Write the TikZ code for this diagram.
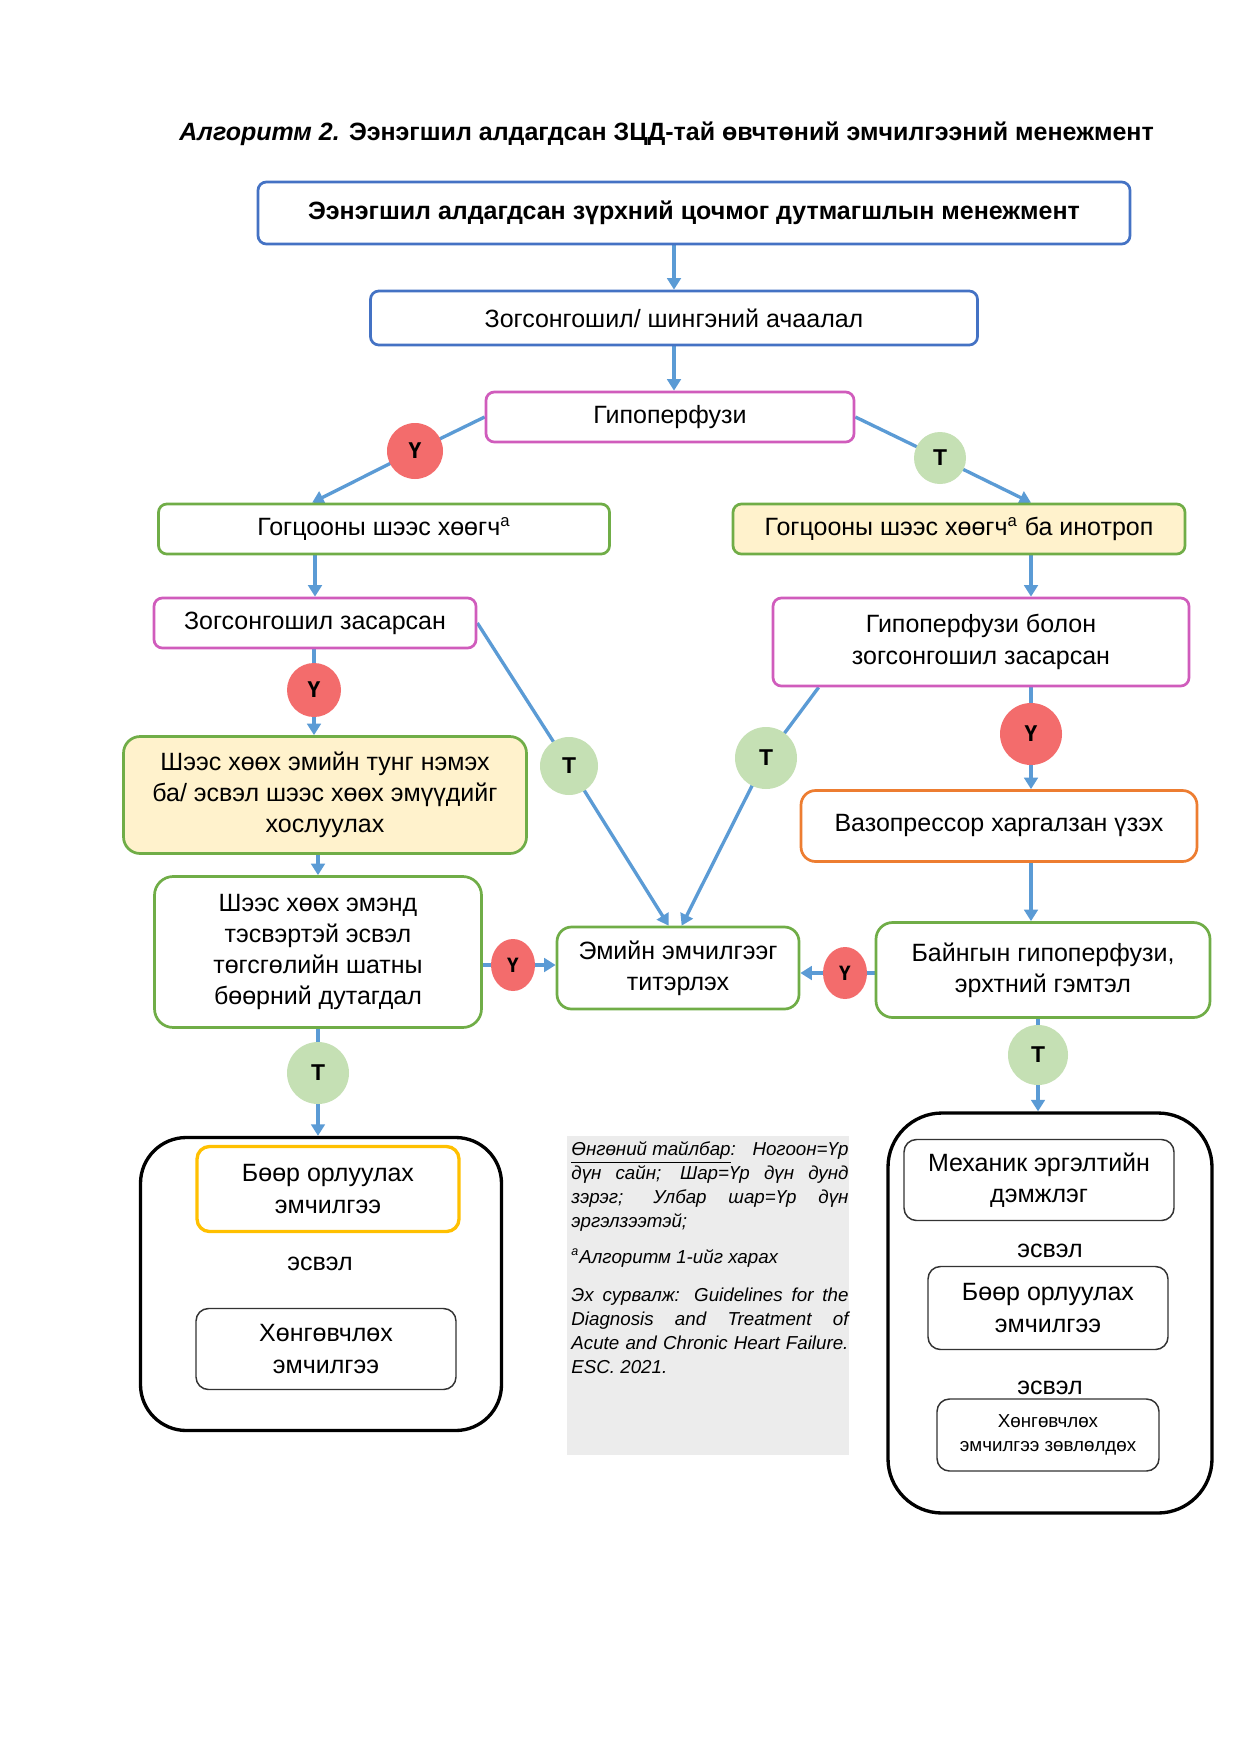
\documentclass[tikz,border=0pt]{standalone}
\usepackage{fontspec}
\setmainfont{Liberation Sans}
\usetikzlibrary{arrows.meta,calc,shapes.geometric}
\pgfdeclarelayer{bg}
\pgfsetlayers{bg,main}
\definecolor{bblue}{RGB}{68,114,196}
\definecolor{pinkc}{RGB}{208,92,188}
\definecolor{greenc}{RGB}{112,173,71}
\definecolor{yellowf}{RGB}{255,242,204}
\definecolor{orangec}{RGB}{237,125,49}
\definecolor{goldc}{RGB}{255,192,0}
\definecolor{arrowc}{RGB}{91,155,213}
\definecolor{redc}{RGB}{243,108,108}
\definecolor{lgreen}{RGB}{197,224,180}
\definecolor{grayf}{RGB}{236,236,236}
\begin{document}
\begin{tikzpicture}[x=0.48pt,y=-0.48pt,
  wh/.style 2 args={minimum width=#1*0.48pt,minimum height=#2*0.48pt},
  base/.style={rounded corners=4pt,line width=1.3pt,inner sep=0pt,align=center,fill=white,font=\fontsize{12}{15}\selectfont},
  bluebox/.style={base,draw=bblue},
  pinkbox/.style={base,draw=pinkc},
  greenbox/.style={base,draw=greenc},
  ygbox/.style={base,draw=greenc,fill=yellowf},
  orangebox/.style={base,draw=orangec},
  goldbox/.style={base,draw=goldc,line width=1.6pt,rounded corners=6pt},
  thinbox/.style={base,draw=black!80,line width=0.7pt,rounded corners=6pt},
  bigbox/.style={draw=black,line width=1.6pt,rounded corners=22pt,inner sep=0pt},
  yc/.style={circle,fill=redc,inner sep=0pt,minimum size=#1*0.48pt,font=\fontsize{11}{11}\selectfont\bfseries},
  tc/.style={circle,fill=lgreen,inner sep=0pt,minimum size=#1*0.48pt,font=\fontsize{11}{11}\selectfont\bfseries},
  ye/.style={ellipse,fill=redc,inner sep=0pt,minimum width=44*0.48pt,minimum height=52*0.48pt,font=\fontsize{10}{10}\selectfont\bfseries},
  arr/.style={draw=arrowc,line width=1.6pt,-{Triangle[length=5.5pt,width=6.5pt]}},
  ln/.style={draw=arrowc,line width=1.6pt},
  plain/.style={inner sep=0pt,font=\fontsize{12}{15}\selectfont}
]
\useasboundingbox (0,0) rectangle (1240,1752);
\begin{pgfonlayer}{bg}
\fill[white] (0,0) rectangle (1240,1752);
\end{pgfonlayer}

% title
\node[inner sep=0pt,anchor=base west,font=\fontsize{12}{14}\selectfont\bfseries] (title) at (179,141)
  {\textit{Алгоритм 2.} Ээнэгшил алдагдсан ЗЦД-тай өвчтөний эмчилгээний менежмент};

% boxes
\node[bluebox,wh={872}{62},font=\fontsize{12}{15}\selectfont\bfseries] (b1) at (694,213) {Ээнэгшил алдагдсан зүрхний цочмог дутмагшлын менежмент};
\node[bluebox,wh={607}{54}] (b2) at (674,318) {Зогсонгошил/ шингэний ачаалал};
\node[pinkbox,wh={368}{50}] (hypo) at (670,417) {Гипоперфузи};
\node[greenbox,wh={451}{50}] (gl) at (384,529) {Гогцооны шээс хөөгч\textsuperscript{a}};
\node[ygbox,wh={452}{50}] (gr) at (959,529) {Гогцооны шээс хөөгч\textsuperscript{a} ба инотроп};
\node[pinkbox,wh={322}{50}] (zl) at (315,623) {Зогсонгошил засарсан};
\node[pinkbox,wh={416}{88}] (hr) at (981,642) {Гипоперфузи болон\\зогсонгошил засарсан};
\node[ygbox,wh={403}{117},rounded corners=8pt] (yl) at (325,795) {Шээс хөөх эмийн тунг нэмэх\\ба/ эсвэл шээс хөөх эмүүдийг\\хослуулах};
\node[orangebox,wh={396}{71},rounded corners=7pt] (vaz) at (999,826) {\raisebox{3pt}{Вазопрессор харгалзан үзэх}};
\node[greenbox,wh={327}{151},rounded corners=9pt] (sh) at (318,952) {Шээс хөөх эмэнд\\тэсвэртэй эсвэл\\төгсгөлийн шатны\\бөөрний дутагдал};
\node[greenbox,wh={242}{82},rounded corners=7pt] (em) at (678,968) {Эмийн эмчилгээг\\титэрлэх};
\node[greenbox,wh={334}{95},rounded corners=8pt] (by) at (1043,970) {Байнгын гипоперфузи,\\эрхтний гэмтэл};

% bottom left group
\node[bigbox,wh={361}{293}] (lb) at (321,1284) {};
\node[goldbox,wh={262}{85}] (rrt1) at (328,1189) {Бөөр орлуулах\\эмчилгээ};
\node[plain] (or1) at (320,1264) {эсвэл};
\node[thinbox,wh={260}{81}] (pal1) at (326,1349) {Хөнгөвчлөх\\эмчилгээ};

% bottom right group
\node[bigbox,wh={324}{400},rounded corners=26pt] (rb) at (1050,1313) {};
\node[thinbox,wh={270}{81}] (mcs) at (1039,1180) {Механик эргэлтийн\\дэмжлэг};
\node[plain] (or2) at (1050,1251) {эсвэл};
\node[thinbox,wh={240}{83}] (rrt2) at (1048,1308) {Бөөр орлуулах\\эмчилгээ};
\node[plain] (or3) at (1050,1388) {эсвэл};
\node[thinbox,wh={222}{72},font=\fontsize{9}{11.4}\selectfont] (pal2) at (1048,1435) {Хөнгөвчлөх\\эмчилгээ зөвлөлдөх};

% legend
\node[fill=grayf,inner sep=0pt,wh={282}{319},anchor=north west] (legbg) at (567,1136) {};
\node[anchor=north west,inner sep=0pt,text width=133pt,align=justify,font=\fontsize{9}{11.5}\selectfont\itshape] (leg) at (571,1141)
 {\parindent=0pt\underline{Өнгөний тайлбар}: Ногоон=Үр\linebreak дүн сайн; Шар=Үр дүн дунд\linebreak зэрэг; Улбар шар=Үр дүн\linebreak эргэлзээтэй;\par\vspace{5.8pt}
 \textsuperscript{a}Алгоритм 1-ийг харах\par\vspace{7pt}
 Эх сурвалж: Guidelines for the\linebreak Diagnosis and Treatment of\linebreak Acute and Chronic Heart Failure.\linebreak ESC. 2021.\par};

% circles
\node[yc=56] (cy1) at (415,451) {Ү};
\node[tc=52] (ct1) at (940,458) {Т};
\node[yc=54] (cy2) at (314,690) {Ү};
\node[tc=58] (ct2) at (569,766) {Т};
\node[tc=62] (ct3) at (766,758) {Т};
\node[yc=62] (cy3) at (1031,734) {Ү};
\node[ye] (cy4) at (513,965) {Ү};
\node[ye] (cy5) at (845,973) {Ү};
\node[tc=62] (ct4) at (318,1073) {Т};
\node[tc=60] (ct5) at (1038,1055) {Т};

% connectors
\begin{pgfonlayer}{bg}
\draw[arr] (b2.north |- b1.south) -- (b2.north);
\draw[arr] (b2.south) -- (b2.south |- hypo.north);
\draw[ln] (hypo.west) -- (cy1.center);
\draw[arr] (cy1.center) -- ($(gl.north west)+(155,0)$);
\draw[ln] (hypo.east) -- (ct1.center);
\draw[arr] (ct1.center) -- (gr.north -| cy3);
\draw[arr] (zl.north |- gl.south) -- (zl.north);
\draw[arr] (gr.south -| cy3) -- (hr.north -| cy3);
\draw[ln] (zl.south -| cy2) -- (cy2.center);
\draw[arr] (cy2.center) -- (yl.north -| cy2);
\draw[ln] (zl.east) -- (ct2.center);
\draw[arr] (ct2.center) -- ($(em.north west)+(113,0)$);
\draw[ln] ($(hr.south west)+(47,0)$) -- (ct3.center);
\draw[arr] (ct3.center) -- ($(em.north west)+(126,0)$);
\draw[ln] (hr.south -| cy3) -- (cy3.center);
\draw[arr] (cy3.center) -- (vaz.north -| cy3);
\draw[arr] (sh.north |- yl.south) -- (sh.north);
\draw[arr] (vaz.south -| cy3) -- (by.north -| cy3);
\draw[ln] (sh.east |- cy4) -- (cy4.center);
\draw[arr] (cy4.center) -- (em.west |- cy4);
\draw[ln] (by.west |- cy5) -- (cy5.center);
\draw[arr] (cy5.center) -- (em.east |- cy5);
\draw[ln] (sh.south -| ct4) -- (ct4.center);
\draw[arr] (ct4.center) -- (lb.north -| ct4);
\draw[ln] (by.south -| ct5) -- (ct5.center);
\draw[arr] (ct5.center) -- (rb.north -| ct5);
\end{pgfonlayer}
\end{tikzpicture}
\end{document}
